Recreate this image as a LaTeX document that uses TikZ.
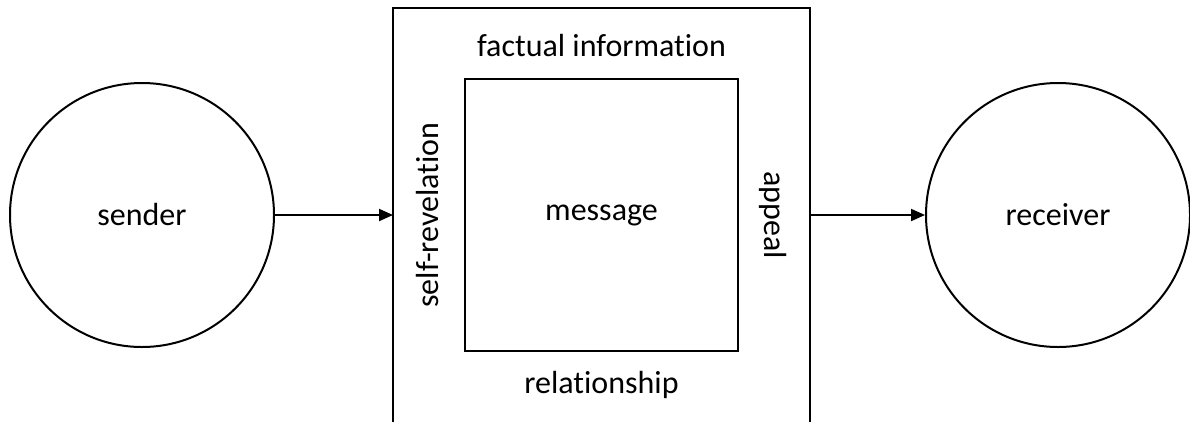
\documentclass[tikz,border=0pt]{standalone}
\usepackage{fontspec}
\setmainfont{Carlito}[Ligatures={NoCommon,NoRare,NoDiscretionary}]
\usetikzlibrary{arrows.meta}
\begin{document}
\begin{tikzpicture}[x=1pt,y=-1pt,
  lbl/.style={font=\fontsize{32}{38}\selectfont, inner sep=0pt},
  party/.style={circle, draw, line width=2pt, minimum size=264pt, inner sep=0pt, font=\fontsize{32}{38}\selectfont},
  box/.style={draw, line width=2pt},
  conn/.style={line width=2pt, -{Triangle[length=14pt,width=12pt]}}]
\useasboundingbox (0,0) rectangle (1190,421);
\node[party] (sender) at (142,215) {sender};
\node[party] (receiver) at (1058,215) {receiver};
\draw[box] (393,430) -- (393,8) -- (810,8) -- (810,430);
\coordinate (outL) at (393,215);
\coordinate (outR) at (810,215);
\node[box, minimum width=273pt, minimum height=272pt, inner sep=0pt, font=\fontsize{32}{38}\selectfont] (msg) at (601.5,215) {message};
\node[lbl] (fact) at (601.5,46) {factual information};
\node[lbl] (rel) at (601.5,385) {relationship};
\node[lbl, rotate=90] (self) at (428,215) {self-revelation};
\node[lbl, rotate=-90] (appeal) at (773,215) {appeal};
\draw[conn] (sender.east) -- (outL);
\draw[conn] (outR) -- (receiver.west);
\end{tikzpicture}
\end{document}
